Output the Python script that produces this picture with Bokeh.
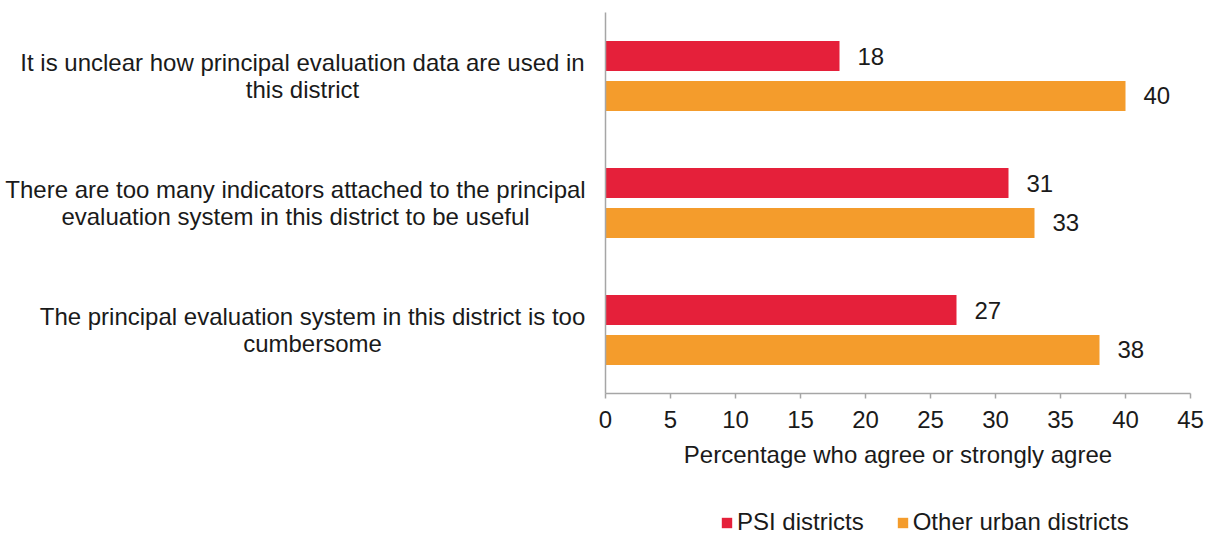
from bokeh.plotting import figure
from bokeh.models import Range1d, Legend, LegendItem, ColumnDataSource, FixedTicker
from bokeh.layouts import row, column
from bokeh.core.properties import value
from bokeh.embed import file_html
from bokeh.resources import INLINE

categories = [
    "It is unclear how principal evaluation data are used in\nthis district",
    "There are too many indicators attached to the principal\nevaluation system in this district to be useful",
    "The principal evaluation system in this district is too\ncumbersome",
]
psi = [18, 31, 27]
other = [40, 33, 38]
series_names = ["PSI districts", "Other urban districts"]
x_ticks = [0, 5, 10, 15, 20, 25, 30, 35, 40, 45]

RED = "#E5203A"
ORANGE = "#F49C2C"
FONT = "Liberation Sans"
FS = "24px"
TXT = "#1a1a1a"

n = len(categories)
centers = [n - 0.5 - i for i in range(n)]
off = 0.157
bh = 0.236

LEFT_W = 588
MAIN_LB = 17
TOP = 12
MAIN_H = 480
FRAME_BOTTOM = 393

# ---- left figure: category labels ----
lf = figure(width=LEFT_W, height=MAIN_H, output_backend="svg", toolbar_location=None,
            x_range=Range1d(0, LEFT_W), y_range=Range1d(0, n),
            min_border_left=0, min_border_right=0, min_border_top=TOP,
            min_border_bottom=MAIN_H - FRAME_BOTTOM)
lf.axis.visible = False
lf.grid.visible = False
lf.outline_line_color = None
label_px = [302, 295, 312]
lf.text(x=label_px, y=centers, text=categories, text_align="center", text_baseline="middle",
        text_font=value(FONT), text_font_size=FS, text_line_height=0.98, text_color=TXT)

# ---- main figure ----
p = figure(width=1207 - LEFT_W, height=MAIN_H, output_backend="svg", toolbar_location=None,
           x_range=Range1d(0, 45), y_range=Range1d(0, n),
           min_border_left=MAIN_LB, min_border_right=17, min_border_top=TOP,
           min_border_bottom=MAIN_H - FRAME_BOTTOM)
p.outline_line_color = None
p.xgrid.visible = False
p.ygrid.visible = False

src_red = ColumnDataSource(dict(y=[c + off for c in centers], v=psi, t=[str(v) for v in psi]))
src_or = ColumnDataSource(dict(y=[c - off for c in centers], v=other, t=[str(v) for v in other]))

p.hbar(y="y", right="v", left=0, height=bh, source=src_red, fill_color=RED, line_color=None)
p.hbar(y="y", right="v", left=0, height=bh, source=src_or, fill_color=ORANGE, line_color=None)

for src in (src_red, src_or):
    p.text(x="v", y="y", text="t", source=src, x_offset=18, text_baseline="middle",
           text_align="left", text_font=value(FONT), text_font_size=FS, text_color=TXT)

xa = p.xaxis[0]
xa.ticker = FixedTicker(ticks=x_ticks)
xa.axis_label = "Percentage who agree or strongly agree"
xa.axis_label_text_font = FONT
xa.axis_label_text_font_size = FS
xa.axis_label_text_font_style = "normal"
xa.axis_label_text_color = TXT
xa.axis_label_standoff = 10
xa.major_label_text_font = FONT
xa.major_label_text_font_size = FS
xa.major_label_text_color = TXT
xa.major_label_standoff = 12
xa.axis_line_color = "#a6a6a6"
xa.axis_line_width = 1.5
xa.major_tick_line_color = "#a6a6a6"
xa.major_tick_line_width = 1.5
xa.major_tick_in = 0
xa.major_tick_out = 5
xa.minor_tick_line_color = None

ya = p.yaxis[0]
ya.axis_line_color = "#a6a6a6"
ya.axis_line_width = 1.5
ya.major_tick_line_color = None
ya.minor_tick_line_color = None
ya.major_label_text_font_size = "0px"
ya.ticker = FixedTicker(ticks=[])

# ---- legend figure ----
LEG_H = 537 - MAIN_H
lg = figure(width=1207, height=LEG_H, output_backend="svg", toolbar_location=None,
            x_range=Range1d(0, 1), y_range=Range1d(0, 1),
            min_border_left=0, min_border_right=0, min_border_top=0, min_border_bottom=0)
lg.axis.visible = False
lg.grid.visible = False
lg.outline_line_color = None
d1 = lg.hbar(y=[0], right=[0], left=0, height=0, fill_color=RED, line_color=None)
d2 = lg.hbar(y=[0], right=[0], left=0, height=0, fill_color=ORANGE, line_color=None)
legend = Legend(items=[LegendItem(label=series_names[0], renderers=[d1]),
                       LegendItem(label=series_names[1], renderers=[d2])],
                orientation="horizontal", location=(720, 1),
                label_text_font=FONT, label_text_font_size=FS, label_text_color=TXT,
                glyph_width=13, glyph_height=13, label_standoff=4, spacing=32,
                padding=0, margin=0, border_line_color=None, background_fill_alpha=0)
lg.add_layout(legend, "center")

layout = column(row(lf, p), lg)
open("out.html", "w").write(file_html(layout, INLINE))
